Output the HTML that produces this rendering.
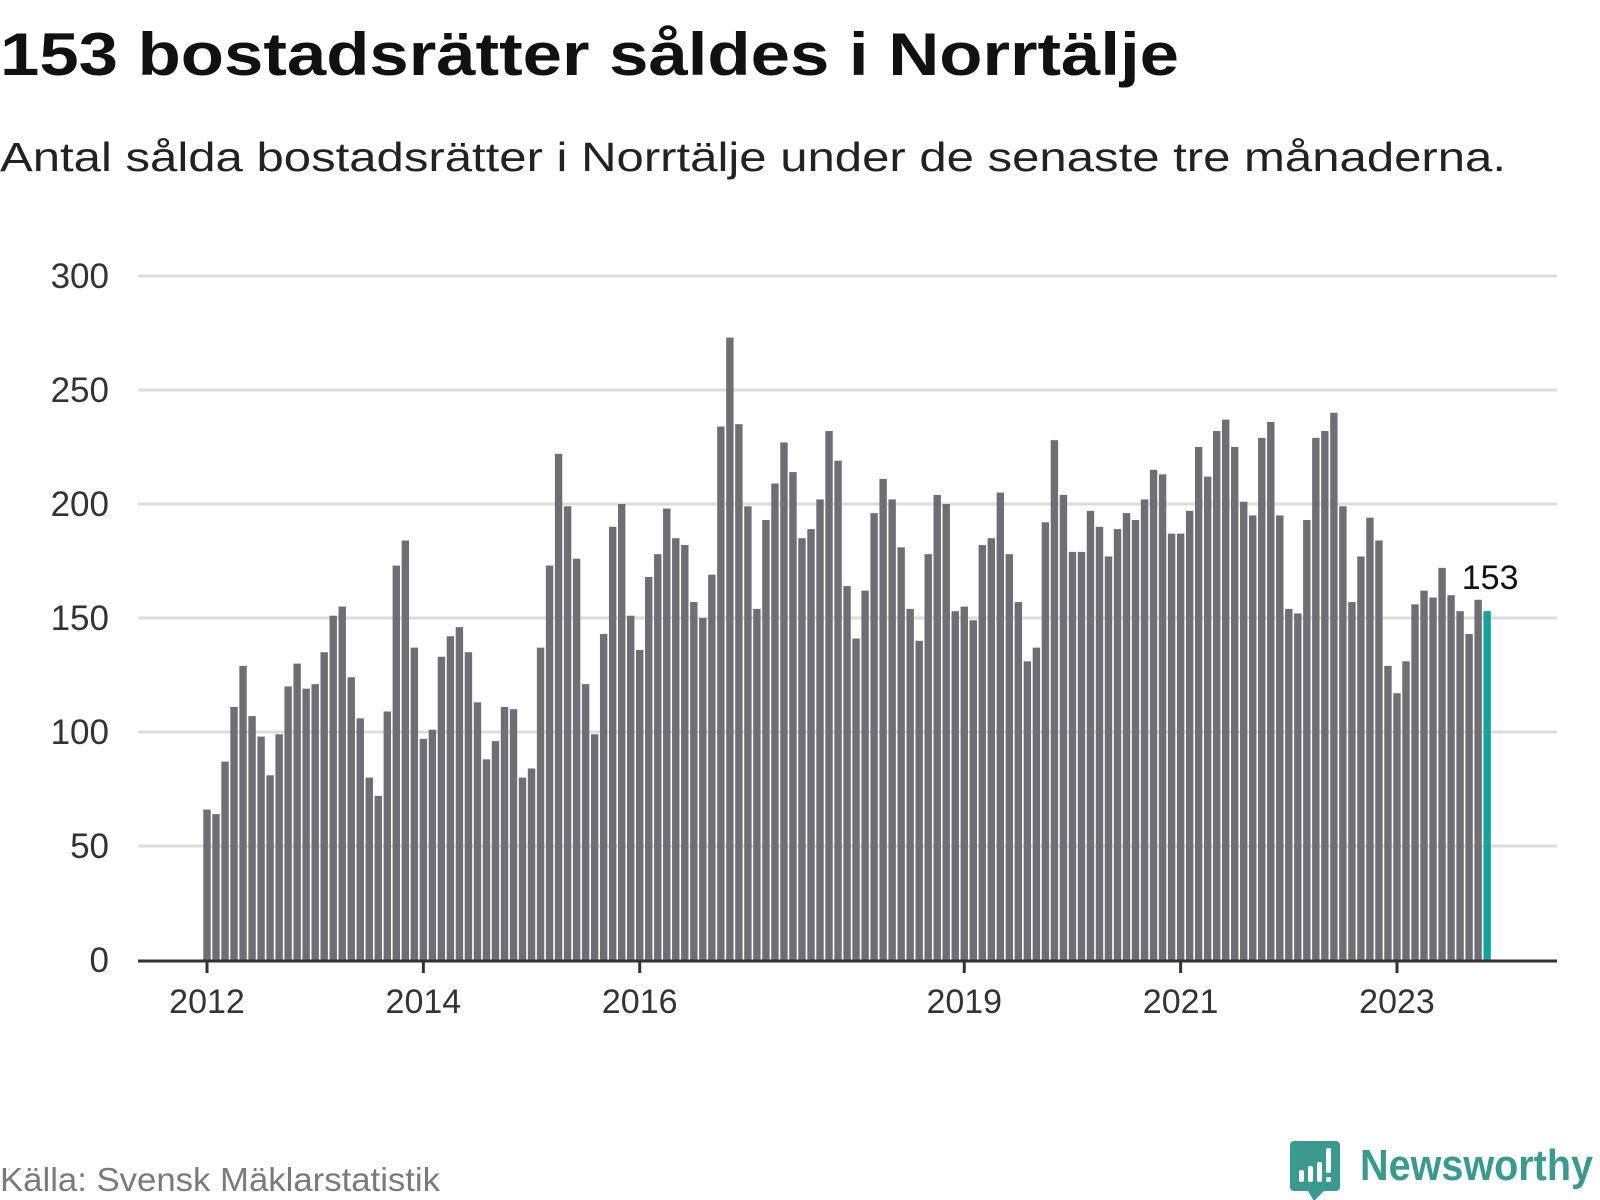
<!DOCTYPE html>
<html><head><meta charset="utf-8"><style>
html,body{margin:0;padding:0;background:#fff;}
svg{display:block;font-family:"Liberation Sans","DejaVu Sans",sans-serif;}
</style></head><body>
<svg id="chart" width="1600" height="1200" viewBox="0 0 1600 1200" xmlns="http://www.w3.org/2000/svg">
<text x="0" y="75" font-size="60" font-weight="bold" fill="#111" textLength="1179" lengthAdjust="spacingAndGlyphs">153 bostadsrätter såldes i Norrtälje</text>
<text x="0" y="171" font-size="41" fill="#222" textLength="1506" lengthAdjust="spacingAndGlyphs">Antal sålda bostadsrätter i Norrtälje under de senaste tre månaderna.</text>
<g id="grid"></g>
<g id="ylabels"></g>
<g id="bars"></g>
<g id="xaxis"></g>
<text x="0" y="1191" font-size="33" fill="#7a7a7a" textLength="440" lengthAdjust="spacingAndGlyphs">Källa: Svensk Mäklarstatistik</text>
<g>
<path d="M1294 1141 h42 a4 4 0 0 1 4 4 v42 a4 4 0 0 1 -4 4 h-12 l-10 10 l-6 -10 h-14 a4 4 0 0 1 -4 -4 v-42 a4 4 0 0 1 4 -4z" fill="#3a9a8e"/>
<rect x="1299" y="1170" width="5" height="12" rx="2" fill="#fff"/>
<rect x="1308" y="1166" width="5" height="16" rx="2" fill="#fff"/>
<rect x="1317" y="1162" width="5" height="20" rx="2" fill="#fff"/>
<rect x="1326" y="1148" width="5" height="25" rx="2" fill="#fff"/>
<rect x="1326" y="1177" width="5" height="5" rx="2" fill="#fff"/>
<text x="1360" y="1180" font-size="44" font-weight="bold" fill="#3a9a8e" textLength="233" lengthAdjust="spacingAndGlyphs">Newsworthy</text>
</g>
</svg>
<script>
const values = [66,64,87,111,129,107,98,81,99,120,130,119,
121,135,151,155,124,106,80,72,109,173,184,137,
97,101,133,142,146,135,113,88,96,111,110,80,
84,137,173,222,199,176,121,99,143,190,200,151,
136,168,178,198,185,182,157,150,169,234,273,235,
199,154,193,209,227,214,185,189,202,232,219,164,
141,162,196,211,202,181,154,140,178,204,200,153,
155,149,182,185,205,178,157,131,137,192,228,204,
179,179,197,190,177,189,196,193,202,215,213,187,
187,197,225,212,232,237,225,201,195,229,236,195,
154,152,193,229,232,240,199,157,177,194,184,129,
117,131,156,162,159,172,160,153,143,158,153];
const yTicks = [0,50,100,150,200,250,300];
const xTickYears = [2012,2014,2016,2019,2021,2023];
const startYear = 2012;
const lastLabel = "153";

const NS="http://www.w3.org/2000/svg";
const X0=207, MONTH=9.015, Y0=960, PXU=2.28, LEFT=138, RIGHT=1557;
const xs = i => X0 + i*MONTH;
const ys = v => Y0 - v*PXU;
function mk(tag, attrs, parent){const e=document.createElementNS(NS,tag);for(const k in attrs)e.setAttribute(k,attrs[k]);parent.appendChild(e);return e;}
const grid=document.getElementById('grid'), yl=document.getElementById('ylabels'), bars=document.getElementById('bars'), xa=document.getElementById('xaxis');
yTicks.forEach(t=>{
  if(t>0){const l=mk('line',{x1:LEFT,x2:RIGHT,y1:ys(t),y2:ys(t),stroke:'#dcdcdc','stroke-width':3},grid);
  
  }
  const tx=mk('text',{x:109,y:ys(t)+12,'text-anchor':'end','font-size':35,fill:'#333'},yl);
  tx.textContent=t;
  
  
});
values.forEach((v,i)=>{
  const last=i===values.length-1;
  const r=mk('rect',{x:xs(i)-3.7,y:ys(v),width:7.4,height:v*PXU,fill:last?'#17a398':'#6f6e74'},bars);
  
  
});
const ax=mk('line',{x1:LEFT,x2:RIGHT,y1:Y0+1,y2:Y0+1,stroke:'#333','stroke-width':3},xa);


xTickYears.forEach(y=>{
  const x=xs((y-startYear)*12);
  const tk=mk('line',{x1:x,x2:x,y1:Y0,y2:Y0+13,stroke:'#333','stroke-width':3},xa);
  
  
  const t=mk('text',{x:x,y:Y0+53,'text-anchor':'middle','font-size':34,fill:'#333'},xa);
  t.textContent=y;
  
  
});
const li=values.length-1;
const lab=mk('text',{x:xs(li)+3,y:ys(values[li])-22,'text-anchor':'middle','font-size':34,fill:'#111'},bars);
lab.textContent=lastLabel;


</script>
</body></html>
